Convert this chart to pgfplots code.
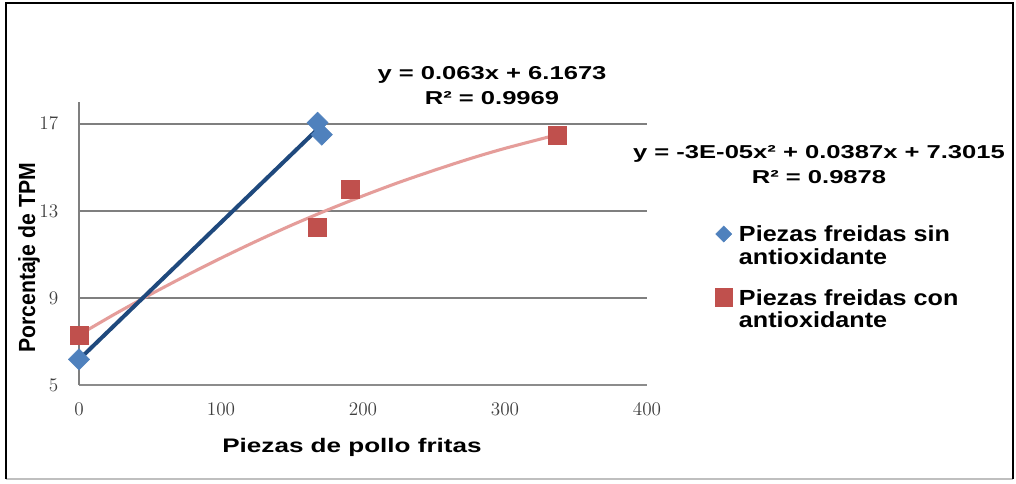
\documentclass[border=0pt]{standalone}
\usepackage{graphicx}
\usepackage{fontspec}
\usepackage{pgfplots}
\pgfplotsset{compat=1.18}

\newfontfamily\lsans{Liberation Sans}

\definecolor{serieA}{HTML}{4F81BD}
\definecolor{lineA}{HTML}{1F497D}
\definecolor{serieB}{HTML}{C0504D}
\definecolor{lineB}{HTML}{E59D9A}
\definecolor{gridc}{HTML}{7F7F7F}
\definecolor{tickc}{HTML}{3F3F3F}

% measured points
\pgfplotstableread{
x   y
0   6.18
168 17.05
171 16.50
}\sinanti
\pgfplotstableread{
x   y
0   7.30
168 12.26
191 14.00
337 16.45
}\conanti
% linear trend  y = 0.063x + 6.1673
\pgfplotstableread{
x   y
0   6.1673
171 16.94
}\trendA
% polynomial trend (order 2)
\pgfplotstableread{
x   y
0   7.30
25  8.25
50  9.15
75  10.01
100 10.83
125 11.61
150 12.35
175 13.04
200 13.69
225 14.30
250 14.86
275 15.39
300 15.87
337 16.50
}\trendB

\newcommand{\legtxt}[2]{\scalebox{1.15}[1]{\begin{tabular}[t]{@{}l@{}}#1\\#2\end{tabular}}}
\newcommand{\eqtxt}[2]{\scalebox{1.37}[1]{\lsans\bfseries\fontsize{14}{18.75}\selectfont\begin{tabular}{@{}c@{}}#1\\#2\end{tabular}}}

\begin{document}
\begin{tikzpicture}[x=0.75pt,y=-0.75pt]
\useasboundingbox (0,0) rectangle (1016,483);
\fill[white] (0,0) rectangle (1016,483);
% outer frame
\draw[black!25, line width=1.2pt] (6,479) -- (1013,479);
\draw[black, line width=1.5pt] (6,479) -- (6,3) -- (1013,3) -- (1013,479);

\begin{axis}[
  at={(59.25pt,-288.75pt)}, anchor=south west,
  scale only axis, width=426pt, height=212.25pt,
  xmin=0, xmax=400, ymin=5, ymax=18,
  axis lines=left,
  axis line style={-},
  x axis line style={draw=gridc!90, line width=1.6pt},
  y axis line style={draw=gridc, line width=1.1pt},
  xtick={0,100,200,300,400},
  ytick={5,9,13,17},
  major tick length=0pt,
  ymajorgrids,
  major grid style={draw=gridc, line width=1.1pt},
  tick label style={font=\fontsize{15}{15}\selectfont, text=tickc},
  xticklabel style={yshift=-10pt},
  yticklabel style={xshift=-12pt},
  clip=false,
  legend cell align=left,
  legend image code/.code={\draw[#1] plot coordinates {(0pt,5.9pt)};},
  legend style={
    at={(1.1197,0.572)}, anchor=north west,
    draw=none, fill=none, inner sep=0pt,
    row sep=30pt, column sep=3pt,
    font=\lsans\bfseries\fontsize{16.4}{17}\selectfont,
    cells={anchor=base west, inner sep=0pt},
  },
]
\addlegendimage{only marks, mark=square*, mark size=4.24pt,
  mark options={rotate=45, fill=serieA, draw=serieA}}
\addlegendentry{\legtxt{Piezas freidas sin}{antioxidante}}
\addlegendimage{only marks, mark=square*, mark size=6.4pt,
  mark options={fill=serieB, draw=serieB}}
\addlegendentry{\legtxt{Piezas freidas con}{antioxidante}}

\addplot[forget plot, only marks, mark=square*, mark size=5.6pt,
  mark options={rotate=45, fill=serieA, draw=serieA}] table {\sinanti};
\addplot[forget plot, only marks, mark=square*, mark size=6.75pt,
  mark options={fill=serieB, draw=serieB}] table {\conanti};

\addplot[forget plot, no marks, draw=lineB, line width=2.3pt, smooth] table {\trendB};
\addplot[forget plot, no marks, draw=lineA, line width=3pt] table {\trendA};
\end{axis}

% trend line equations
\node[inner sep=0pt] at (492,87.2) {\eqtxt{y = 0.063x + 6.1673}{R² = 0.9969}};
\node[inner sep=0pt] at (819,166.2) {\eqtxt{y = -3E-05x² + 0.0387x + 7.3015}{R² = 0.9878}};

% axis titles
\node[anchor=base, inner sep=0pt] at (352,452)
  {\scalebox{1.33}[1]{\lsans\bfseries\fontsize{14.7}{16}\selectfont Piezas de pollo fritas}};
\node[anchor=base, rotate=90, inner sep=0pt] at (35,258)
  {\scalebox{1}[1.1]{\lsans\bfseries\fontsize{15.9}{17}\selectfont Porcentaje de TPM}};
\end{tikzpicture}
\end{document}
